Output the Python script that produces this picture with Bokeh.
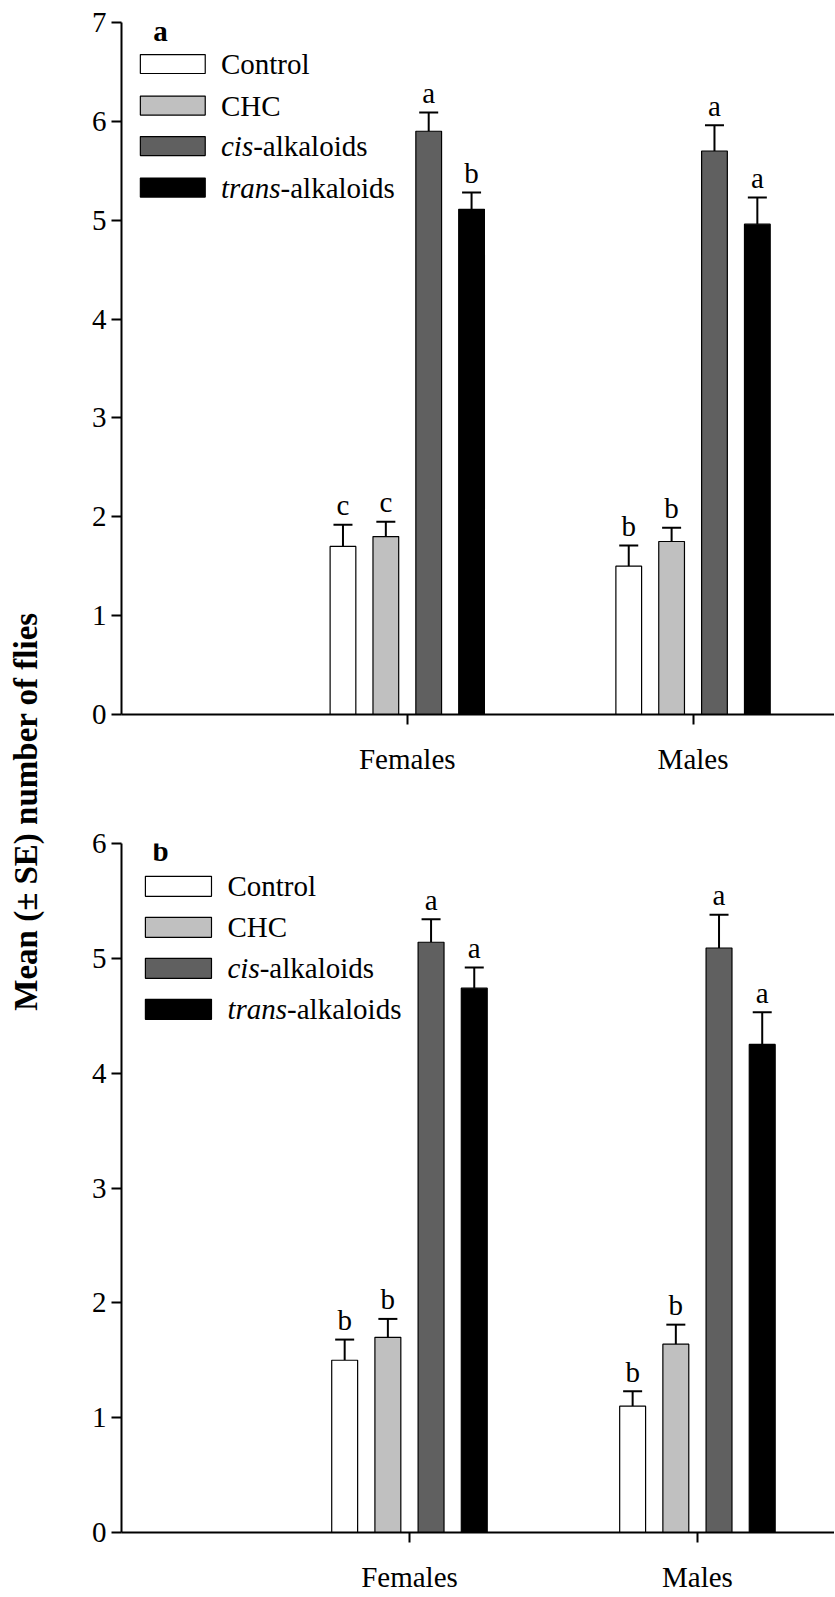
import math
from bokeh.plotting import figure
from bokeh.models import (ColumnDataSource, Range1d, FixedTicker, Whisker, TeeHead,
                          Label, BoxAnnotation)
from bokeh.layouts import row, column
from bokeh.embed import file_html
from bokeh.resources import INLINE
from bokeh.core.properties import value

# ---------------- data ----------------
categories = ["Females", "Males"]
treatments = ["Control", "CHC", "cis-alkaloids", "trans-alkaloids"]
colors = ["#ffffff", "#c0c0c0", "#606060", "#000000"]

# panel a
a_control = [1.70, 1.50]
a_control_se = [0.22, 0.21]
a_chc = [1.80, 1.75]
a_chc_se = [0.15, 0.14]
a_cis = [5.90, 5.70]
a_cis_se = [0.19, 0.26]
a_trans = [5.11, 4.96]
a_trans_se = [0.17, 0.27]
a_letters = [["c", "b"], ["c", "b"], ["a", "a"], ["b", "a"]]

# panel b
b_control = [1.50, 1.10]
b_control_se = [0.18, 0.13]
b_chc = [1.70, 1.64]
b_chc_se = [0.16, 0.17]
b_cis = [5.14, 5.09]
b_cis_se = [0.20, 0.29]
b_trans = [4.74, 4.25]
b_trans_se = [0.18, 0.28]
b_letters = [["b", "b"], ["b", "b"], ["a", "a"], ["a", "a"]]

y_ticks_a = [0, 1, 2, 3, 4, 5, 6, 7]
y_ticks_b = [0, 1, 2, 3, 4, 5, 6]

FONT = "Liberation Serif"
FS = "29px"
offsets = [-0.225, -0.075, 0.075, 0.225]
BAR_W = 0.09
LABEL_W = 48
TOTAL_H = 1596
LETTER_GAP_PX = 19.5   # cap -> middle of letter


def make_panel(means, ses, letters, yticks, xend, width, height, bl, bt, bb,
               standoff, panel_letter, legend):
    frame_h = height - bt - bb
    px_unit = frame_h / yticks[-1]
    gap = LETTER_GAP_PX / px_unit
    p = figure(width=width, height=height, output_backend="svg", toolbar_location=None,
               x_range=Range1d(0, xend), y_range=Range1d(0, yticks[-1]),
               min_border_left=bl, min_border_top=bt, min_border_bottom=bb,
               min_border_right=0, outline_line_color=None)
    p.xgrid.visible = False
    p.ygrid.visible = False

    for i in range(len(treatments)):
        xs = [k + 1 + offsets[i] for k in range(len(categories))]
        upper = [m + s for m, s in zip(means[i], ses[i])]
        src = ColumnDataSource(dict(
            x=xs, top=means[i], upper=upper,
            ly=[u + gap for u in upper], letter=letters[i]))
        p.vbar(x="x", top="top", bottom=0, width=BAR_W, source=src,
               fill_color=colors[i], line_color="#000000", line_width=1.2)
        w = Whisker(source=src, base="x", lower="top", upper="upper",
                    dimension="height", line_color="black", line_width=2,
                    upper_head=TeeHead(size=19, line_width=2, line_color="black"),
                    lower_head=None)
        p.add_layout(w)
        p.text(x="x", y="ly", text="letter", source=src,
               text_align="center", text_baseline="middle",
               text_font=value(FONT), text_font_size=FS, text_color="black")

    # axes
    for ax in (p.xaxis[0], p.yaxis[0]):
        ax.axis_line_width = 2
        ax.axis_line_color = "black"
        ax.major_tick_line_width = 2
        ax.major_tick_line_color = "black"
        ax.major_tick_in = 0
        ax.major_tick_out = 10
        ax.minor_tick_line_color = None
        ax.major_label_text_font = FONT
        ax.major_label_text_font_size = FS
        ax.major_label_text_color = "black"
    p.yaxis[0].ticker = FixedTicker(ticks=yticks)
    p.yaxis[0].major_label_standoff = 5
    p.xaxis[0].ticker = FixedTicker(ticks=[k + 1 for k in range(len(categories))])
    p.xaxis[0].major_label_overrides = {k + 1: c for k, c in enumerate(categories)}
    p.xaxis[0].major_label_standoff = standoff

    # legend (manual, to allow partly italic labels)
    bx0, bx1, tx, rows_y, hh, lx, ly = legend
    for i, t in enumerate(treatments):
        yc = rows_y[i]
        p.add_layout(BoxAnnotation(left=bx0, right=bx1, bottom=yc - hh, top=yc + hh,
                                   fill_color=colors[i], fill_alpha=1.0,
                                   line_color="black", line_width=1.2, line_alpha=1.0))
        if "-" in t:
            ital, rest = t.split("-", 1)
            ital_w = {"cis": 32.2, "trans": 59.6}[ital]
            p.add_layout(Label(x=tx, y=yc, text=ital, text_baseline="middle",
                               text_font=FONT, text_font_size=FS, text_font_style="italic",
                               text_color="black"))
            p.add_layout(Label(x=tx, y=yc, x_offset=ital_w, text="-" + rest,
                               text_baseline="middle", text_font=FONT,
                               text_font_size=FS, text_color="black"))
        else:
            p.add_layout(Label(x=tx, y=yc, text=t, text_baseline="middle",
                               text_font=FONT, text_font_size=FS, text_color="black"))
    p.add_layout(Label(x=lx, y=ly, text=panel_letter, text_baseline="middle",
                       text_font=FONT, text_font_size=FS, text_font_style="bold",
                       text_color="black"))
    return p


means_a = [a_control, a_chc, a_cis, a_trans]
ses_a = [a_control_se, a_chc_se, a_cis_se, a_trans_se]
means_b = [b_control, b_chc, b_cis, b_trans]
ses_b = [b_control_se, b_chc_se, b_cis_se, b_trans_se]

p1 = make_panel(means_a, ses_a, a_letters, y_ticks_a, 2.495, 786, 790, 70, 22, 76, 18,
                "a", (0.066, 0.293, 0.348, [6.58, 6.16, 5.75, 5.33], 0.096, 0.111, 6.919))
p2 = make_panel(means_b, ses_b, b_letters, y_ticks_b, 2.476, 786, 806, 73, 53, 64, 18,
                "b", (0.083, 0.3125, 0.368, [5.627, 5.27, 4.913, 4.556], 0.087, 0.108, 5.939))

lab = figure(width=LABEL_W, height=TOTAL_H, output_backend="svg", toolbar_location=None,
             x_range=Range1d(0, LABEL_W), y_range=Range1d(0, TOTAL_H),
             x_axis_type=None, y_axis_type=None, min_border=0, outline_line_color=None)
lab.xgrid.visible = False
lab.ygrid.visible = False
lab.add_layout(Label(x=25, y=TOTAL_H - 811, text="Mean (\u00b1 SE) number of flies",
                     angle=math.pi / 2, text_align="center", text_baseline="middle",
                     text_font=FONT, text_font_size="33px", text_font_style="bold",
                     text_color="black"))

layout = row(lab, column(p1, p2))
open("out.html", "w").write(file_html(layout, INLINE))
